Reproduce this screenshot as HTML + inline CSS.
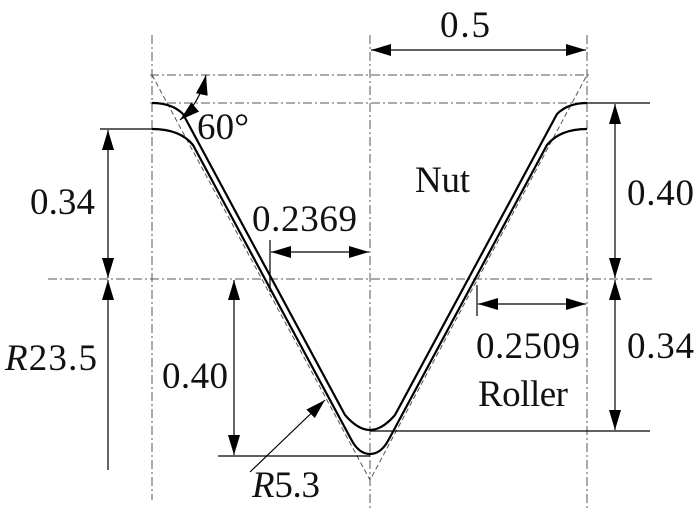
<!DOCTYPE html>
<html><head><style>
html,body{margin:0;padding:0;background:#fff;}
svg{display:block;}
text{font-family:"Liberation Serif",serif;font-size:37px;fill:#111;}
</style></head><body>
<svg width="700" height="508" viewBox="0 0 700 508">
<defs>
<marker id="a" viewBox="0 0 20 12" refX="20" refY="6" markerWidth="20" markerHeight="12" markerUnits="userSpaceOnUse" orient="auto-start-reverse">
<path d="M0,0 L20,6 L0,12 z" fill="#000"/></marker>
</defs>
<g stroke="#555" stroke-width="1" fill="none" stroke-dasharray="9,3,2,3">
<line x1="152" y1="35" x2="152" y2="500"/>
<line x1="370" y1="35" x2="370" y2="508"/>
<line x1="587" y1="35" x2="587" y2="508"/>
<line x1="150" y1="75" x2="590" y2="75"/>
<line x1="150" y1="103" x2="590" y2="103"/>
<line x1="48" y1="279" x2="655" y2="279"/>
</g>
<path d="M152,75 L370,480 L587,75" stroke="#555" stroke-width="1" fill="none" stroke-dasharray="5,3"/>
<g stroke="#000" stroke-width="2.2" fill="none">
<path d="M152,103 Q172,103 183,114 L345,415 Q358,430 370,430 Q382,430 395,415 L557,114 Q568,103 587,103"/>
<path d="M152,129 Q180,129 193,145 L351.5,440 Q359,454 370,454 Q381,454 388.5,440 L547,145 Q560,129 587,129"/>
</g>
<g stroke="#000" stroke-width="1.2" fill="none">
<line x1="100" y1="129" x2="152" y2="129"/>
<line x1="587" y1="103" x2="650" y2="103"/>
<line x1="370" y1="431" x2="650" y2="431"/>
<line x1="218" y1="456" x2="370" y2="456"/>
<line x1="270" y1="240" x2="270" y2="292"/>
<line x1="477" y1="285" x2="477" y2="316"/>
<line x1="371" y1="50" x2="586" y2="50" marker-start="url(#a)" marker-end="url(#a)"/>
<line x1="108" y1="130" x2="108" y2="278" marker-start="url(#a)" marker-end="url(#a)"/>
<line x1="108" y1="280" x2="108" y2="470" marker-start="url(#a)"/>
<line x1="271" y1="252" x2="369" y2="252" marker-start="url(#a)" marker-end="url(#a)"/>
<line x1="234" y1="280" x2="234" y2="455" marker-start="url(#a)" marker-end="url(#a)"/>
<line x1="615" y1="104" x2="615" y2="278" marker-start="url(#a)" marker-end="url(#a)"/>
<line x1="615" y1="280" x2="615" y2="430" marker-start="url(#a)" marker-end="url(#a)"/>
<line x1="478" y1="304" x2="586" y2="304" marker-start="url(#a)" marker-end="url(#a)"/>
<line x1="250" y1="472" x2="325" y2="400" marker-end="url(#a)"/>
<path d="M206,75 Q200,103 180,120" marker-start="url(#a)" marker-end="url(#a)"/>
</g>
<text x="440" y="37" textLength="50">0.5</text>
<text x="197" y="139" textLength="52">60°</text>
<text x="415" y="192" font-size="32" textLength="55">Nut</text>
<text x="30" y="214" textLength="65">0.34</text>
<text x="252" y="231" textLength="105">0.2369</text>
<text x="627" y="205" textLength="67">0.40</text>
<text x="476" y="358" textLength="104">0.2509</text>
<text x="627" y="358" textLength="67">0.34</text>
<text x="478" y="406" font-size="32" textLength="90">Roller</text>
<text x="5" y="370" textLength="92"><tspan font-style="italic">R</tspan>23.5</text>
<text x="162" y="388" textLength="66">0.40</text>
<text x="252" y="497" textLength="68"><tspan font-style="italic">R</tspan>5.3</text>
</svg>
</body></html>
